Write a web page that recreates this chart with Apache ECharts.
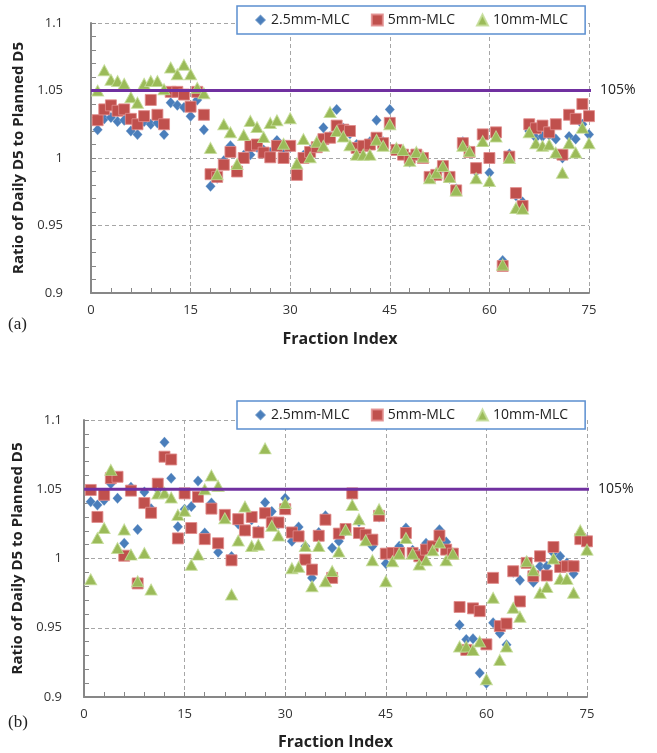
<!DOCTYPE html>
<html>
<head>
<meta charset="utf-8">
<script src="https://cdn.jsdelivr.net/npm/echarts@6/dist/echarts.min.js"></script>
<style>
html,body{margin:0;padding:0;background:#fff;}
#c{width:657px;height:753px;}
</style>
</head>
<body>
<div id="c"></div>
<script>
// Fraction indices 1..75
const fractions = Array.from({length: 75}, (_, k) => k + 1);
const xTicks = [0, 15, 30, 45, 60, 75];
const yTicks = [0.9, 0.95, 1, 1.05, 1.1];
const refLevel = 1.05;
const refLabel = '105%';
const seriesNames = ['2.5mm-MLC', '5mm-MLC', '10mm-MLC'];

// Panel (a)
const a_mlc25 = [1.021,1.029,1.030,1.027,1.028,1.020,1.0175,1.027,1.025,1.026,1.0175,1.041,1.039,1.0375,1.031,1.043,1.021,0.979,0.985,0.998,
  1.009,0.992,1.002,1.0025,1.008,1.006,1.004,1.013,1.005,1.008,0.990,1.002,1.006,1.010,1.0225,1.016,1.036,1.022,1.018,1.010,
  1.008,1.012,1.028,1.012,1.036,1.006,1.003,0.997,1.002,1.000,0.985,0.988,0.993,0.985,0.977,1.012,1.004,0.990,1.017,0.989,
  1.018,0.924,1.003,0.972,0.9675,1.020,1.015,1.016,1.017,1.014,1.000,1.016,1.014,1.025,1.0175];
const a_mlc5 = [1.028,1.036,1.039,1.035,1.036,1.029,1.025,1.031,1.043,1.032,1.025,1.049,1.049,1.047,1.038,1.049,1.032,0.988,0.986,0.995,
  1.0045,0.990,1.000,1.009,1.010,1.004,1.0005,1.009,1.000,1.009,0.9875,1.000,1.0045,1.008,1.014,1.015,1.024,1.021,1.020,1.0075,
  1.009,1.010,1.015,1.011,1.026,1.006,1.0025,1.000,1.0025,1.000,0.986,0.9875,0.994,0.986,0.976,1.011,1.0045,0.9925,1.0175,1.000,
  1.019,0.920,1.001,0.974,0.9645,1.025,1.022,1.024,1.019,1.025,1.0025,1.032,1.029,1.040,1.031];
const a_mlc10 = [1.050,1.065,1.058,1.057,1.055,1.045,1.041,1.055,1.057,1.057,1.051,1.067,1.062,1.069,1.062,1.052,1.048,1.0075,0.988,1.025,
  1.019,0.9955,1.017,1.0275,1.023,1.0155,1.026,1.028,1.0105,1.0295,0.996,1.014,1.0005,1.012,1.009,1.034,1.020,1.016,1.0095,1.0025,
  1.0025,1.0025,1.0135,1.009,1.025,1.0075,1.006,0.998,1.0045,1.001,0.985,0.989,0.994,0.986,0.976,1.009,1.005,0.985,1.0125,0.983,
  1.016,0.921,1.000,0.963,0.9625,1.019,1.011,1.009,1.010,1.004,0.989,1.011,1.004,1.0225,1.011];

// Panel (b)
const b_mlc25 = [1.041,1.0387,1.042,1.054,1.0435,1.011,1.0515,1.021,1.048,1.036,1.050,1.084,1.058,1.023,1.0355,1.0375,1.056,1.0185,1.040,1.0045,
  1.030,1.0015,1.025,1.020,1.028,1.020,1.0405,1.034,1.025,1.0435,1.0124,1.0227,1.0088,0.986,1.0188,1.0308,1.0076,1.0124,1.020,1.046,
  1.0267,1.015,1.0088,1.030,0.9963,1.002,1.0088,1.022,1.006,1.003,1.011,1.008,1.0207,1.012,1.004,0.952,0.9416,0.942,0.9173,0.910,
  0.9536,0.946,0.9377,0.990,0.9843,0.998,0.9828,0.9944,0.9944,1.004,1.0016,0.9968,0.989,1.0155,1.0136];
const b_mlc5 = [1.0495,1.030,1.046,1.058,1.059,1.002,1.049,0.982,1.040,1.033,1.054,1.0735,1.0715,1.0145,1.047,1.022,1.0445,1.014,1.036,1.011,
  1.0315,0.9987,1.0284,1.0203,1.030,1.0188,1.0327,1.026,1.026,1.0356,1.0188,1.016,0.9992,0.992,1.0164,1.028,0.986,1.018,1.0213,1.047,
  1.0184,1.0172,1.0136,1.0308,1.0035,1.004,1.004,1.0184,1.004,1.0016,1.0064,1.0088,1.0165,1.0064,1.0035,0.965,0.934,0.964,0.962,0.938,
  0.986,0.9512,0.953,0.9908,0.969,0.9968,0.9872,1.0016,0.9877,1.0083,0.9939,0.9944,0.9944,1.014,1.0124];
const b_mlc10 = [0.985,1.0148,1.022,1.064,1.0075,1.021,1.0028,0.9836,1.004,0.9776,1.047,1.0475,1.044,1.0315,1.0345,0.9955,1.0028,1.050,1.060,1.0524,
  1.029,0.974,1.013,1.0375,1.009,1.010,1.0795,1.0236,1.0166,1.040,0.993,0.994,1.009,0.980,1.009,0.9836,0.991,1.005,1.0207,1.0387,
  1.0284,1.0131,0.9987,1.0356,0.9836,0.998,1.0035,1.0148,1.0035,0.9956,0.9987,1.0059,1.0116,0.9987,1.0035,0.9364,0.9364,0.934,0.940,0.9128,
  0.9716,0.9268,0.9364,0.9644,0.958,0.998,0.9915,0.9752,0.9795,1.000,0.9853,0.9853,0.9752,1.0203,1.0064];

const COLORS = ['#4a7ebb', '#c0504d', '#9bbb59'];
const SYMBOLS = ['diamond', 'rect', 'triangle'];
const SIZES = [[10, 11], [11, 11], [12, 11]];
const BORDERS = ['rgba(255,255,255,0.2)', 'rgba(225,140,140,0.85)', 'rgba(195,220,150,0.85)'];
const FONT = '"Open Sans", "Liberation Sans", sans-serif';

function pairs(vals) { return vals.map((v, k) => [fractions[k], v]); }

const grids = [
  {left: 91, top: 23, width: 498, height: 270},
  {left: 84, top: 420, width: 503, height: 277}
];

function xAxisFor(gi, labelMargin, nameGap) {
  return {
    type: 'value', gridIndex: gi, min: xTicks[0], max: xTicks[xTicks.length - 1], interval: 15,
    name: 'Fraction Index', nameLocation: 'middle', nameGap: nameGap,
    nameTextStyle: {fontFamily: FONT, fontWeight: 'bold', fontSize: 16, color: '#222'},
    axisLine: {show: true, onZero: false, lineStyle: {color: '#878787', width: 2}},
    axisTick: {show: true, inside: true, length: 5, lineStyle: {color: '#878787', width: 1}},
    minorTick: {show: true, splitNumber: 5, length: 5, lineStyle: {color: '#878787', width: 1}},
    axisLabel: {fontFamily: FONT, fontSize: 13, color: '#333', margin: labelMargin},
    splitLine: {show: true, lineStyle: {color: '#a6a6a6', type: [4, 3], width: 1}}
  };
}
function yAxisFor(gi, labelMargin, nameGap) {
  return {
    type: 'value', gridIndex: gi, min: yTicks[0], max: yTicks[yTicks.length - 1], interval: 0.05,
    name: 'Ratio of Daily D5 to Planned D5', nameLocation: 'middle', nameGap: nameGap, nameRotate: 90,
    nameTextStyle: {fontFamily: FONT, fontWeight: 'bold', fontSize: 15, color: '#222'},
    axisLine: {show: true, onZero: false, lineStyle: {color: '#878787', width: 2}},
    axisTick: {show: true, inside: true, length: 5, lineStyle: {color: '#878787', width: 1}},
    minorTick: {show: true, splitNumber: 5, length: 5, lineStyle: {color: '#878787', width: 1}},
    axisLabel: {fontFamily: FONT, fontSize: 13, color: '#333', margin: labelMargin,
      formatter: v => String(+v.toFixed(2))},
    splitLine: {show: true, lineStyle: {color: '#a6a6a6', type: [4, 3], width: 1}}
  };
}

function scatterSeries(gi, dataSets) {
  return dataSets.map((vals, s) => ({
    name: seriesNames[s], type: 'scatter', xAxisIndex: gi, yAxisIndex: gi,
    symbol: SYMBOLS[s], symbolSize: SIZES[s],
    itemStyle: {color: COLORS[s], borderColor: BORDERS[s], borderWidth: 1, opacity: 1},
    data: pairs(vals), z: 3 + s
  }));
}
function refLine(gi) {
  return {
    name: 'ref' + gi, type: 'line', xAxisIndex: gi, yAxisIndex: gi, clip: false,
    symbol: 'none', silent: true, z: 10,
    lineStyle: {color: '#7030a0', width: 3},
    data: [[xTicks[0], refLevel], [76.3, refLevel]],
    endLabel: {show: true, formatter: refLabel, distance: 9, fontFamily: FONT, fontSize: 14, color: '#222'}
  };
}

function legendFor(top) {
  return {
    data: [
      {name: seriesNames[0], icon: 'diamond'},
      {name: seriesNames[1], icon: 'rect'},
      {name: seriesNames[2], icon: 'triangle'}
    ],
    left: 237, top: top, width: 350,
    padding: [7, 17, 7, 17], itemGap: 21, itemWidth: 11, itemHeight: 11,
    backgroundColor: '#fff', borderColor: '#5b8fd0', borderWidth: 1.5,
    textStyle: {fontFamily: FONT, fontSize: 14, color: '#222'},
    selectedMode: false
  };
}

const chart = echarts.init(document.getElementById('c'), null, {renderer: 'canvas'});
chart.setOption({
  animation: false,
  backgroundColor: '#fff',
  title: [
    {text: '(a)', left: 3, top: 311, textStyle: {fontFamily: '"Liberation Serif", serif', fontWeight: 'normal', fontSize: 17, color: '#222'}},
    {text: '(b)', left: 3, top: 709, textStyle: {fontFamily: '"Liberation Serif", serif', fontWeight: 'normal', fontSize: 17, color: '#222'}}
  ],
  legend: [legendFor(6), legendFor(401)],
  grid: grids,
  xAxis: [xAxisFor(0, 11, 38), xAxisFor(1, 11, 37)],
  yAxis: [yAxisFor(0, 28, 49), yAxisFor(1, 22, 44)],
  series: [
    ...scatterSeries(0, [a_mlc25, a_mlc5, a_mlc10]),
    refLine(0),
    ...scatterSeries(1, [b_mlc25, b_mlc5, b_mlc10]),
    refLine(1)
  ]
});
</script>
</body>
</html>
